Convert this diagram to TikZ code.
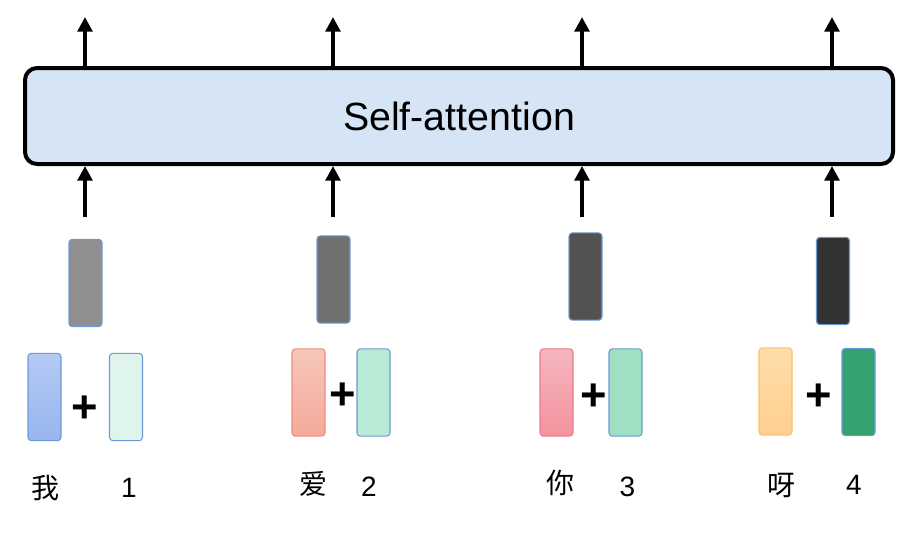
\documentclass[tikz,border=0pt]{standalone}
\usepackage{fontspec}
\setmainfont{Liberation Sans}
\newfontfamily\cjk{Noto Sans CJK SC}
\usetikzlibrary{arrows.meta}
\definecolor{sabg}{HTML}{D5E5F5}
\definecolor{edgeblue}{HTML}{6C9BD8}
\begin{document}
\begin{tikzpicture}[x=0.75pt,y=-0.75pt,
  sabox/.style={draw=black,line width=3pt,rounded corners=9pt,fill=sabg,minimum width=651pt,minimum height=72pt,inner sep=0pt,font=\fontsize{29.5}{32}\selectfont},
  bar/.style={draw=edgeblue,line width=0.8pt,rounded corners=2.5pt,minimum width=24.75pt,minimum height=65.5pt,inner sep=0pt},
  arr/.style={line width=3pt,-{Triangle[width=11pt,length=11pt]}},
  plus/.style={font=\fontsize{34}{36}\selectfont\bfseries,inner sep=0pt},
  lab/.style={font=\fontsize{21}{24}\selectfont,inner sep=0pt},
  clab/.style={font=\cjk\fontsize{21}{24}\selectfont,inner sep=0pt}]
\useasboundingbox[fill=white] (0,0) rectangle (920,547);
\node[sabox] (sa) at (459,116) {Self-attention};
% output / input coordinates
\coordinate (t1) at (85,17);  \coordinate (t2) at (333,17);
\coordinate (t3) at (582,17); \coordinate (t4) at (832,17);
\coordinate (b1) at (85,217); \coordinate (b2) at (333,217);
\coordinate (b3) at (582,217); \coordinate (b4) at (832,217);
\foreach \i in {1,2,3,4}{
  \draw[arr] (t\i |- sa.north) -- (t\i);
  \draw[arr] (b\i) -- (b\i |- sa.south);
}
% combined vectors
\node[bar,fill={rgb,255:red,143;green,143;blue,143}] (c1) at (85.5,283) {};
\node[bar,fill={rgb,255:red,112;green,112;blue,112}] (c2) at (333.5,279.5) {};
\node[bar,fill={rgb,255:red,82;green,82;blue,82}] (c3) at (585.5,276.5) {};
\node[bar,fill={rgb,255:red,51;green,51;blue,51}] (c4) at (833,281) {};
% word embeddings
\node[bar,top color={rgb,255:red,180;green,202;blue,243},bottom color={rgb,255:red,152;green,181;blue,238}] (w1) at (44.5,397) {};
\node[bar,draw={rgb,255:red,240;green,140;blue,124},top color={rgb,255:red,246;green,198;blue,186},bottom color={rgb,255:red,245;green,170;blue,155}] (w2) at (308.5,392.5) {};
\node[bar,draw={rgb,255:red,238;green,122;blue,138},top color={rgb,255:red,245;green,182;blue,190},bottom color={rgb,255:red,244;green,146;blue,158}] (w3) at (556.5,392.5) {};
\node[bar,draw={rgb,255:red,255;green,192;blue,106},top color={rgb,255:red,255;green,221;blue,171},bottom color={rgb,255:red,255;green,207;blue,142}] (w4) at (775.5,391.5) {};
% position embeddings
\node[bar,fill={rgb,255:red,223;green,244;blue,234}] (p1) at (126,397) {};
\node[bar,fill={rgb,255:red,184;green,234;blue,213}] (p2) at (373.5,392.5) {};
\node[bar,fill={rgb,255:red,159;green,224;blue,194}] (p3) at (625.5,392.5) {};
\node[bar,fill={rgb,255:red,53;green,163;blue,111}] (p4) at (858.5,392) {};
% plus signs
\node[plus] (s1) at (84.5,409) {+};
\node[plus] (s2) at (342.5,396.5) {+};
\node[plus] (s3) at (593.5,397) {+};
\node[plus] (s4) at (818.5,397) {+};
% labels
\node[clab] (l1) at (45.5,488.5) {我};
\node[lab] (n1) at (129,488) {1};
\node[clab] (l2) at (313.5,483.5) {爱};
\node[lab] (n2) at (369,487) {2};
\node[clab] (l3) at (560,482.5) {你};
\node[lab] (n3) at (627.5,487) {3};
\node[clab] (l4) at (781.5,485) {呀};
\node[lab] (n4) at (854,485) {4};
\end{tikzpicture}
\end{document}
